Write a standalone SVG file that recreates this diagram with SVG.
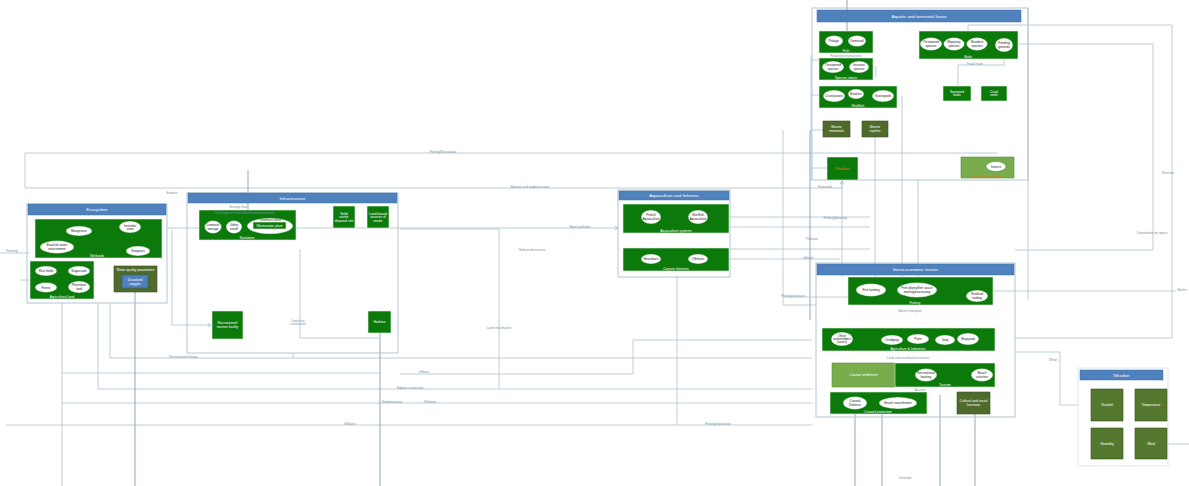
<svg xmlns="http://www.w3.org/2000/svg" width="1189" height="486" viewBox="0 0 1189 486">
<defs>
<style>
.bg{fill:#fff}
.box{fill:none;stroke:#b3c3d3;stroke-width:1}
.hdr{fill:#4f81bd;stroke:#41709f;stroke-width:0.5}
.g{fill:#0b7a0b;stroke:#e8f0e8;stroke-width:0.6}
.o{fill:#4f6b2c;stroke:#3b5220;stroke-width:0.6}
.lg{fill:#78ac4c;stroke:#5f8f38;stroke-width:0.6}
.bl{fill:#4f81bd;stroke:#2f5a8a;stroke-width:0.6}
.e{fill:#fff;stroke:#0b7a0b;stroke-width:0.4}
text{font-family:"Liberation Sans",Arial,sans-serif;text-anchor:middle;dominant-baseline:central}
.h{font-size:4.4px;fill:#fff}
.w{font-size:3.4px;fill:#fff}
.k{font-size:3.2px;fill:#222}
.or{font-size:3.6px;fill:#e07a10}
.cl{font-size:3.2px;fill:#7890a8}
.c{fill:none;stroke:#b4c6d8;stroke-width:0.9}
.cd{fill:none;stroke:#8fa7bf;stroke-width:1}
</style>
<marker id="ar" viewBox="0 0 6 6" refX="5" refY="3" markerWidth="5" markerHeight="5" orient="auto"><path d="M0 0 L5 3 L0 6" fill="none" stroke="#8fa7bf" stroke-width="0.8"/></marker>
</defs>
<rect class="bg" width="1189" height="486"/>

<g id="connectors">
<path class="c" d="M25 188 V153 H997"/>
<path class="c" d="M25 188 H842 V181" marker-end="url(#ar)"/>
<path class="cd" d="M248 170 V210"/>
<path class="c" d="M167 228 H618" marker-end="url(#ar)"/>
<path class="c" d="M400 229 H499 V389"/>
<path class="c" d="M110 303 V358 H812"/>
<path class="c" d="M293 353 V358"/>
<path class="c" d="M62 303 V486"/>
<path class="c" d="M62 373 H380"/>
<path class="c" d="M98 303 V389 H812"/>
<path class="c" d="M62 403 H812"/>
<path class="c" d="M6 425 H812"/>
<path class="c" d="M0 253 H30 M20 280 H30"/>
<path class="cd" d="M135 288 V486"/>
<path class="cd" d="M380 333 V486"/>
<path class="c" d="M677 277 V425"/>
<path class="c" d="M400 374 H633 V340 H812"/>
<path class="c" d="M172 230 V325 H211" marker-end="url(#ar)"/>
<path class="c" d="M300 249 V338 H380"/>
<path class="c" d="M729 217 H870"/>
<path class="c" d="M729 259 H840"/>
<path class="c" d="M730 227 H870"/>
<path class="c" d="M730 249 H870"/>
<path class="c" d="M783 130 V305 H816"/>
<path class="cd" d="M810 130 V320"/>
<path class="cd" d="M847 0 V31"/>
<path class="c" d="M968 31 V25 H1172 V338 H1015"/>
<path class="c" d="M1018 44 H1153 V250 H1015"/>
<path class="c" d="M993 291 H1176"/>
<path class="c" d="M1015 352 H1060 V405 H1091"/>
<path class="c" d="M1167 444 H1189"/>
<path class="cd" d="M855 414 V486"/>
<path class="cd" d="M882 414 V486"/>
<path class="cd" d="M940 395 V486"/>
<path class="cd" d="M975 414 V486"/>
<path class="c" d="M842 180 V277"/>
<path class="c" d="M875 137 V277"/>
<path class="c" d="M902 96 V277"/>
<path class="c" d="M918 180 V277"/>
<path class="c" d="M811 55 V180"/>
<path class="c" d="M811 60 H819 M811 95 H819 M811 130 H823 M811 168 H827"/>
<path class="c" d="M958 86 V65 H1004 V52"/>
<path class="c" d="M873 67 H876 V77"/>
<path class="c" d="M783 297 H848"/>
<path class="c" d="M1028 8 V300"/>
</g>

<g id="connector-labels">
<text class="cl" x="443" y="152">Fishing/Recreation</text>
<text class="cl" x="530" y="187">Nutrient and sediment input</text>
<text class="cl" x="172" y="193">Erosion</text>
<text class="cl" x="580" y="227">Water pollution</text>
<text class="cl" x="532" y="250">Habitat destruction</text>
<text class="cl" x="499" y="328">Land reclamation</text>
<text class="cl" x="183" y="357">Recreational fishing</text>
<text class="cl" x="410" y="388">Habitat conversion</text>
<text class="cl" x="392" y="402">Sedimentation</text>
<text class="cl" x="430" y="402">Pollution</text>
<text class="cl" x="350" y="424">Effluent</text>
<text class="cl" x="718" y="424">Fishing/recreation</text>
<text class="cl" x="424" y="372">effluent</text>
<text class="cl" x="825" y="187">Food web</text>
<text class="cl" x="835" y="218">Fishing/gleaning</text>
<text class="cl" x="812" y="239">Pollution</text>
<text class="cl" x="808" y="258">effluent</text>
<text class="cl" x="793" y="296">Fishing pressure</text>
<text class="cl" x="1168" y="173">Nutrition</text>
<text class="cl" x="1152" y="233">Competition for space</text>
<text class="cl" x="1182" y="290">Market</text>
<text class="cl" x="1053" y="360">Wind</text>
<text class="cl" x="905" y="478">Demand</text>
<text class="cl" x="238" y="207">Sewage flow</text>
<text class="cl" x="12" y="251">Farming</text>
</g>

<g id="ecosystem">
<rect class="box" x="27" y="204" width="140" height="99"/>
<rect class="hdr" x="28" y="204" width="138" height="11"/>
<text class="h" x="97" y="209.5">Ecosystem</text>
<g id="wetlands">
<rect class="g" x="35" y="219" width="127" height="39"/>
<text class="w" x="97" y="255.5">Wetlands</text>
<ellipse class="e" cx="79" cy="231" rx="13" ry="5"/><text class="k" x="79" y="231">Mangroves</text>
<ellipse class="e" cx="130" cy="227" rx="11" ry="6"/><text class="k" x="130" y="225.5">Intertidal</text><text class="k" x="130" y="228.8">zone</text>
<ellipse class="e" cx="57" cy="247" rx="17" ry="6.5"/><text class="k" x="57" y="245.3">Brackish water</text><text class="k" x="57" y="248.7">environment</text>
<ellipse class="e" cx="138" cy="251" rx="12" ry="5"/><text class="k" x="138" y="251">Seagrass</text>
</g>
<g id="agricultural-land">
<rect class="g" x="30" y="261" width="64" height="38"/>
<text class="w" x="62" y="296.8">Agricultural land</text>
<ellipse class="e" cx="46" cy="271" rx="11" ry="5"/><text class="k" x="46" y="271">Rice fields</text>
<ellipse class="e" cx="79" cy="271" rx="11" ry="5"/><text class="k" x="79" y="271">Sugarcane</text>
<ellipse class="e" cx="46" cy="287.5" rx="11" ry="5"/><text class="k" x="46" y="287.5">Forest</text>
<ellipse class="e" cx="79" cy="287" rx="11" ry="6"/><text class="k" x="79" y="285.4">Plantation</text><text class="k" x="79" y="288.7">land</text>
</g>
<g id="water-quality">
<rect class="o" x="114" y="266" width="43" height="26"/>
<text class="w" x="135.5" y="270">Water quality parameters</text>
<rect class="bl" x="122" y="275" width="26" height="13"/>
<text class="w" x="135" y="279.8">Dissolved</text><text class="w" x="135" y="283.5">oxygen</text>
</g>
</g>

<g id="infrastructure">
<rect class="box" x="187" y="193" width="211" height="160"/>
<rect class="hdr" x="188" y="193" width="209" height="10"/>
<text class="h" x="292.5" y="198">Infrastructure</text>
<g id="sanitation">
<rect class="g" x="199" y="210" width="97" height="30"/>
<text class="w" x="247" y="237.6">Sanitation</text>
<ellipse class="e" cx="213" cy="227" rx="8.5" ry="6.5"/><text class="k" x="213" y="225.4">Domestic</text><text class="k" x="213" y="228.7">sewage</text>
<ellipse class="e" cx="234" cy="227" rx="8" ry="6.5"/><text class="k" x="234" y="225.4">Urban</text><text class="k" x="234" y="228.7">runoff</text>
<ellipse class="e" cx="270" cy="226" rx="23" ry="8"/>
<text class="k" x="270" y="219.6">Treatment plant</text>
<rect class="g" x="253" y="222" width="33" height="7"/>
<text class="w" x="269.5" y="225.5">Wastewater plant</text>
<text class="cl" x="245" y="212.5">Discharge of treated/untreated wastewater</text>
</g>
<g id="solid-waste"><rect class="g" x="333" y="206" width="22" height="22"/><text class="w" x="344" y="213.5">Solid</text><text class="w" x="344" y="217">waste</text><text class="w" x="344" y="220.5">disposal site</text></g>
<g id="land-based"><rect class="g" x="367" y="206" width="22" height="22"/><text class="w" x="378" y="213.5">Land-based</text><text class="w" x="378" y="217">sources of</text><text class="w" x="378" y="220.5">waste</text></g>
<g id="recreational"><rect class="g" x="212" y="311" width="31" height="28"/><text class="w" x="227.5" y="323.3">Recreational/</text><text class="w" x="227.5" y="326.8">tourism facility</text></g>
<g id="harbour"><rect class="g" x="368" y="311" width="23" height="22"/><text class="w" x="379.5" y="322">Harbour</text></g>
<text class="cl" x="298" y="320.5">Land use</text><text class="cl" x="298" y="324">conversion</text>
</g>

<g id="aquaculture">
<rect class="box" x="618" y="190" width="112" height="87"/>
<rect class="hdr" x="619" y="191" width="110" height="9"/>
<text class="h" x="674" y="195.5">Aquaculture and fisheries</text>
<g id="aquaculture-systems">
<rect class="g" x="623" y="204" width="106" height="29"/>
<text class="w" x="676" y="230.5">Aquaculture systems</text>
<ellipse class="e" cx="651" cy="217" rx="10" ry="7"/><text class="k" x="651" y="215.4">Finfish</text><text class="k" x="651" y="218.7">Aquaculture</text>
<ellipse class="e" cx="698" cy="217" rx="10" ry="7"/><text class="k" x="698" y="215.4">Shellfish</text><text class="k" x="698" y="218.7">Aquaculture</text>
</g>
<g id="capture-fisheries">
<rect class="g" x="623" y="248" width="106" height="23"/>
<text class="w" x="676" y="268.8">Capture fisheries</text>
<ellipse class="e" cx="651" cy="259" rx="10" ry="5"/><text class="k" x="651" y="259">Nearshore</text>
<ellipse class="e" cx="698" cy="259" rx="10" ry="5"/><text class="k" x="698" y="259">Offshore</text>
</g>
</g>

<g id="fauna">
<rect class="box" x="812" y="8" width="216" height="172"/>
<rect class="hdr" x="817" y="10" width="204" height="12"/>
<text class="h" x="919" y="16">Aquatic and terrestrial fauna</text>
<g id="fish">
<rect class="g" x="819" y="31" width="54" height="22"/>
<text class="w" x="846" y="50.8">Fish</text>
<ellipse class="e" cx="834" cy="41" rx="9" ry="5.5"/><text class="k" x="834" y="41">Pelagic</text>
<ellipse class="e" cx="857" cy="41" rx="9" ry="5.5"/><text class="k" x="857" y="41">Demersal</text>
</g>
<text class="cl" x="846" y="56">Food web interactions</text>
<g id="species-status">
<rect class="g" x="819" y="58" width="54" height="22"/>
<text class="w" x="846" y="78">Species status</text>
<ellipse class="e" cx="833" cy="67" rx="11" ry="6"/><text class="k" x="833" y="65.4">Threatened</text><text class="k" x="833" y="68.7">species</text>
<ellipse class="e" cx="859" cy="67" rx="10" ry="6"/><text class="k" x="859" y="65.4">Invasive</text><text class="k" x="859" y="68.7">species</text>
</g>
<g id="shellfish">
<rect class="g" x="819" y="86" width="78" height="22"/>
<text class="w" x="858" y="105.6">Shellfish</text>
<ellipse class="e" cx="834" cy="96" rx="11" ry="6"/><text class="k" x="834" y="96">Crustaceans</text>
<ellipse class="e" cx="856" cy="94" rx="8" ry="5"/><text class="k" x="856" y="94">Bivalves</text>
<ellipse class="e" cx="883" cy="96" rx="11" ry="6"/><text class="k" x="883" y="96">Gastropods</text>
</g>
<g id="birds">
<rect class="g" x="919" y="31" width="99" height="28"/>
<text class="w" x="968" y="56.5">Birds</text>
<ellipse class="e" cx="931" cy="44" rx="11" ry="6.5"/><text class="k" x="931" y="42.4">Threatened</text><text class="k" x="931" y="45.7">species</text>
<ellipse class="e" cx="954" cy="44" rx="10.5" ry="6.5"/><text class="k" x="954" y="42.4">Migratory</text><text class="k" x="954" y="45.7">species</text>
<ellipse class="e" cx="977" cy="44" rx="10.5" ry="6.5"/><text class="k" x="977" y="42.4">Resident</text><text class="k" x="977" y="45.7">species</text>
<ellipse class="e" cx="1004" cy="45" rx="9" ry="7"/><text class="k" x="1004" y="43.4">Feeding</text><text class="k" x="1004" y="46.7">grounds</text>
</g>
<text class="cl" x="975" y="63.5">Food chain</text>
<g id="marine-mammals"><rect class="o" x="823" y="121" width="27" height="16"/><text class="w" x="836.5" y="127.3">Marine</text><text class="w" x="836.5" y="130.8">mammals</text></g>
<g id="marine-reptiles"><rect class="o" x="862" y="121" width="26" height="16"/><text class="w" x="875" y="127.3">Marine</text><text class="w" x="875" y="130.8">reptiles</text></g>
<g id="seaweed"><rect class="g" x="943" y="86" width="28" height="15"/><text class="w" x="957" y="91.8">Seaweed</text><text class="w" x="957" y="95.3">beds</text></g>
<g id="coral"><rect class="g" x="981" y="86" width="26" height="15"/><text class="w" x="994" y="91.8">Coral</text><text class="w" x="994" y="95.3">reefs</text></g>
<g id="plankton"><rect class="g" x="827" y="157" width="31" height="23"/><text class="or" x="842.5" y="168.5">Plankton</text></g>
<g id="terrestrial"><rect class="lg" x="961" y="157" width="53" height="21"/>
<ellipse class="e" cx="996" cy="166.5" rx="10" ry="5"/><text class="k" x="996" y="166.5">Insects</text>
<text class="or" x="987" y="175.6" style="font-size:3.2px">Terrestrial invertebrates</text></g>
</g>

<g id="socio-economic">
<rect class="box" x="816" y="263" width="199" height="154"/>
<rect class="hdr" x="817" y="264" width="197" height="11"/>
<text class="h" x="915.5" y="269.5">Socio-economic factors</text>
<g id="fishery">
<rect class="g" x="848" y="277" width="145" height="28"/>
<text class="w" x="915" y="303">Fishery</text>
<ellipse class="e" cx="871" cy="290" rx="15" ry="6.5"/><text class="k" x="871" y="290">Fish landing</text>
<ellipse class="e" cx="917" cy="290" rx="20" ry="7.5"/><text class="k" x="917" y="288.4">Fish drying/fish sauce</text><text class="k" x="917" y="291.7">making/processing</text>
<ellipse class="e" cx="977" cy="296" rx="11" ry="6"/><text class="k" x="977" y="294.4">Seafood</text><text class="k" x="977" y="297.7">trading</text>
</g>
<text class="cl" x="910" y="311">Marine transport</text>
<g id="industries">
<rect class="g" x="822" y="328" width="173" height="23"/>
<text class="w" x="908" y="349">Agriculture &amp; Industries</text>
<ellipse class="e" cx="842" cy="339" rx="11" ry="7"/><text class="k" x="842" y="336">Other</text><text class="k" x="842" y="339.2">stakeholders</text><text class="k" x="842" y="342.4">(users)</text>
<ellipse class="e" cx="892" cy="340" rx="11" ry="5"/><text class="k" x="892" y="340">Dredging</text>
<ellipse class="e" cx="918" cy="339" rx="11" ry="5"/><text class="k" x="918" y="339">Ports</text>
<ellipse class="e" cx="945" cy="340" rx="10" ry="5"/><text class="k" x="945" y="340">Jetty</text>
<ellipse class="e" cx="968" cy="339" rx="11" ry="6"/><text class="k" x="968" y="339">Shipyards</text>
</g>
<text class="cl" x="908" y="358">Land and sea-based activities</text>
<g id="coastal-settlement"><rect class="lg" x="832" y="363" width="63" height="24"/><text class="w" x="863.5" y="375">Coastal settlement</text></g>
<g id="tourism">
<rect class="g" x="895" y="363" width="100" height="24"/>
<text class="w" x="945" y="384.6">Tourism</text>
<ellipse class="e" cx="926" cy="375" rx="11" ry="6.5"/><text class="k" x="926" y="373.4">Recreational</text><text class="k" x="926" y="376.7">boating</text>
<ellipse class="e" cx="982" cy="375" rx="11" ry="6.5"/><text class="k" x="982" y="373.4">Beach</text><text class="k" x="982" y="376.7">activities</text>
</g>
<text class="cl" x="920" y="389.5">Access</text>
<g id="coastal-protection">
<rect class="g" x="830" y="392" width="97" height="22"/>
<text class="w" x="878" y="412">Coastal protection</text>
<ellipse class="e" cx="855" cy="403" rx="12" ry="6.5"/><text class="k" x="855" y="401.4">Coastal</text><text class="k" x="855" y="404.7">Defence</text>
<ellipse class="e" cx="898" cy="403" rx="19" ry="6"/><text class="k" x="898" y="403">Beach nourishment</text>
</g>
<g id="cultural"><rect class="o" x="957" y="392" width="33" height="22"/><text class="w" x="973.5" y="401.3">Cultural and social</text><text class="w" x="973.5" y="404.8">functions</text></g>
</g>

<g id="weather">
<rect class="box" x="1078" y="368" width="90" height="98" style="fill:#fff;stroke:#dde5ee"/>
<rect class="hdr" x="1080" y="370" width="83" height="10"/>
<text class="h" x="1121.5" y="375">Weather</text>
<g id="rainfall"><rect class="o" x="1091" y="389" width="32" height="32" style="fill:#55782f"/><text class="w" x="1107" y="405">Rainfall</text></g>
<g id="temperature"><rect class="o" x="1135" y="389" width="32" height="32" style="fill:#55782f"/><text class="w" x="1151" y="405">Temperature</text></g>
<g id="humidity"><rect class="o" x="1091" y="428" width="32" height="31" style="fill:#55782f"/><text class="w" x="1107" y="443.5">Humidity</text></g>
<g id="wind"><rect class="o" x="1135" y="428" width="32" height="31" style="fill:#55782f"/><text class="w" x="1151" y="443.5">Wind</text></g>
</g>
</svg>
